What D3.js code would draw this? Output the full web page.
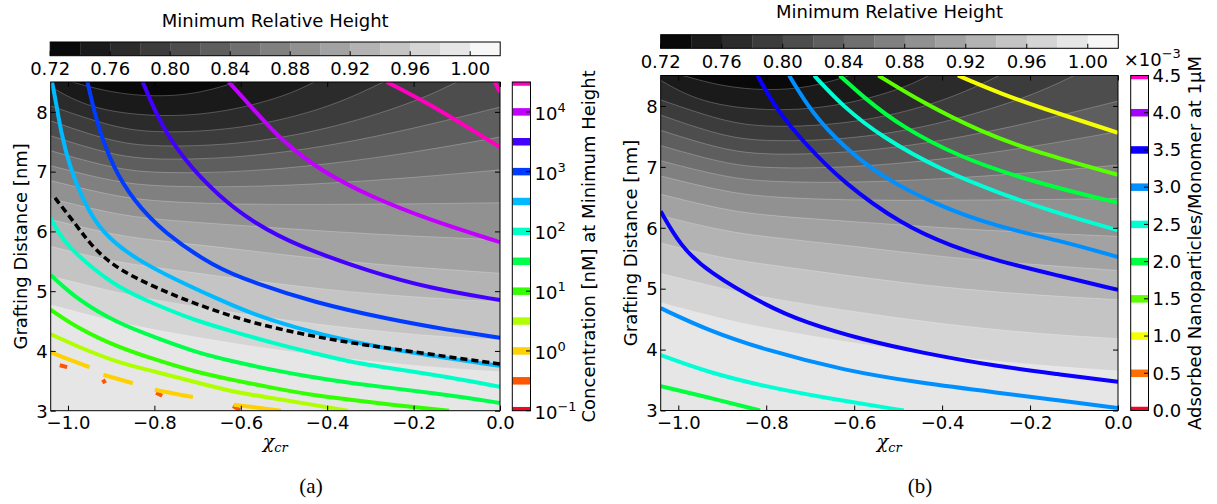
<!DOCTYPE html>
<html>
<head>
<meta charset="utf-8">
<script src="https://cdn.jsdelivr.net/npm/d3@7/dist/d3.min.js"></script>
<style>
html,body{margin:0;padding:0;background:#fff;}
svg text{font-family:"DejaVu Sans",sans-serif;fill:#000;}
</style>
</head>
<body>
<svg id="fig" width="1217" height="504" xmlns="http://www.w3.org/2000/svg"></svg>
<script>
// ---------- data ----------
const chiTicks = [-1.0, -0.8, -0.6, -0.4, -0.2, 0.0];
const distanceTicks = [3, 4, 5, 6, 7, 8];

// Minimum relative height: filled-contour level edges and colorbar ticks
const heightEdges = [0.72, 0.74, 0.76, 0.78, 0.80, 0.82, 0.84, 0.86, 0.88, 0.90, 0.92, 0.94, 0.96, 0.98, 1.00, 1.02];
const heightTicks = [0.72, 0.76, 0.80, 0.84, 0.88, 0.92, 0.96, 1.00];

// Iso-height curves [chi, distance]; the lower height lies on the upper side
const heightContours = [
  {level: 0.98, points: [[-1.04,4.77],[-0.9,4.5],[-0.8,4.35],[-0.6,4.1],[-0.4,3.9],[-0.2,3.75],[0,3.65]]},
  {level: 0.96, points: [[-1.04,5.25],[-0.9,5.0],[-0.8,4.85],[-0.6,4.62],[-0.4,4.42],[-0.2,4.27],[0,4.18]]},
  {level: 0.94, points: [[-1.04,5.75],[-0.9,5.5],[-0.8,5.4],[-0.6,5.2],[-0.4,5.02],[-0.2,4.9],[0,4.82]]},
  {level: 0.92, points: [[-1.04,6.2],[-0.9,5.95],[-0.8,5.85],[-0.6,5.7],[-0.4,5.52],[-0.2,5.4],[0,5.3]]},
  {level: 0.90, points: [[-1.04,6.55],[-0.9,6.3],[-0.8,6.2],[-0.6,6.1],[-0.4,6.0],[-0.2,5.92],[0,5.86]]},
  {level: 0.88, points: [[-1.04,6.85],[-0.9,6.6],[-0.8,6.5],[-0.6,6.45],[-0.4,6.45],[-0.2,6.46],[0,6.48]]},
  {level: 0.86, points: [[-1.04,7.1],[-0.9,6.84],[-0.8,6.75],[-0.6,6.74],[-0.4,6.8],[-0.2,6.9],[0,7.03]]},
  {level: 0.84, points: [[-1.04,7.35],[-0.9,7.06],[-0.8,6.97],[-0.6,6.99],[-0.4,7.12],[-0.2,7.32],[0,7.58]]},
  {level: 0.82, points: [[-1.04,7.6],[-0.9,7.28],[-0.8,7.19],[-0.6,7.23],[-0.4,7.42],[-0.2,7.72],[0,8.08]]},
  {level: 0.80, points: [[-1.04,7.85],[-0.9,7.5],[-0.8,7.41],[-0.6,7.45],[-0.4,7.7],[-0.2,8.15],[-0.1,8.5]]},
  {level: 0.78, points: [[-1.04,8.1],[-0.9,7.75],[-0.8,7.64],[-0.6,7.7],[-0.4,8.05],[-0.27,8.5]]},
  {level: 0.76, points: [[-1.04,8.42],[-0.95,8.05],[-0.8,7.91],[-0.65,7.97],[-0.5,8.25],[-0.43,8.5]]},
  {level: 0.74, points: [[-0.99,8.5],[-0.9,8.32],[-0.8,8.25],[-0.7,8.3],[-0.61,8.5]]}
];

// (a) concentration at minimum height, levels 10^e nM
const concExponents = [-1, -0.5, 0, 0.5, 1, 1.5, 2, 2.5, 3, 3.5, 4, 4.5];
const concTickExponents = [-1, 0, 1, 2, 3, 4];
const concLines = [
  {exp: -0.5, segments: [
    [[-1.019,3.76],[-1.002,3.73]],
    [[-0.919,3.52],[-0.914,3.46]],
    [[-0.796,3.30],[-0.782,3.25]],
    [[-0.618,3.08],[-0.602,3.01]]]},
  {exp: 0, segments: [
    [[-1.04,3.98],[-1.0,3.86],[-0.95,3.73]],
    [[-0.918,3.60],[-0.884,3.53],[-0.850,3.46]],
    [[-0.799,3.35],[-0.752,3.28],[-0.711,3.23]],
    [[-0.616,3.10],[-0.560,3.05],[-0.507,3.0]]]},
  {exp: 0.5, segments: [
    [[-1.04,4.28],[-0.977,4.07],[-0.887,3.81],[-0.796,3.65],[-0.706,3.48],[-0.616,3.31],[-0.525,3.21],[-0.435,3.10],[-0.352,3.0]]]},
  {exp: 1, segments: [
    [[-1.04,4.69],[-0.977,4.38],[-0.887,4.07],[-0.796,3.85],[-0.706,3.65],[-0.616,3.51],[-0.525,3.38],[-0.435,3.26],[-0.343,3.18],[-0.252,3.10],[-0.118,3.0]]]},
  {exp: 1.5, segments: [
    [[-1.04,5.27],[-0.977,4.85],[-0.887,4.47],[-0.796,4.22],[-0.706,3.98],[-0.616,3.82],[-0.525,3.68],[-0.435,3.56],[-0.343,3.46],[-0.252,3.38],[-0.118,3.26],[0,3.13]]]},
  {exp: 2, segments: [
    [[-1.04,6.22],[-1.013,5.85],[-0.958,5.47],[-0.887,5.07],[-0.796,4.77],[-0.706,4.51],[-0.616,4.32],[-0.525,4.13],[-0.435,3.97],[-0.343,3.81],[-0.252,3.71],[-0.118,3.56],[0,3.40]]]},
  {exp: 2.5, segments: [
    [[-1.037,8.5],[-1.03,8.25],[-1.016,7.65],[-0.996,7.08],[-0.966,6.53],[-0.922,5.97],[-0.840,5.52],[-0.750,5.19],[-0.660,4.89],[-0.574,4.62],[-0.479,4.40],[-0.343,4.15],[-0.208,3.97],[0,3.75]]]},
  {exp: 3, segments: [
    [[-0.955,8.5],[-0.931,7.75],[-0.896,7.08],[-0.850,6.53],[-0.778,5.97],[-0.660,5.40],[-0.569,5.14],[-0.435,4.82],[-0.252,4.52],[-0.118,4.35],[0,4.22]]]},
  {exp: 3.5, segments: [
    [[-0.827,8.5],[-0.787,7.81],[-0.732,7.20],[-0.650,6.58],[-0.569,6.14],[-0.470,5.76],[-0.299,5.32],[-0.162,5.05],[0,4.85]]]},
  {exp: 4, segments: [
    [[-0.628,8.5],[-0.569,8.03],[-0.507,7.53],[-0.417,7.02],[-0.299,6.58],[-0.162,6.19],[0,5.82]]]},
  {exp: 4.5, segments: [
    [[-0.262,8.5],[-0.181,8.20],[-0.090,7.81],[0,7.41]],
    [[-0.012,8.5],[0,8.33]]]}
];
// (a) dashed black curve
const thresholdCurve = [[-1.030,6.56],[-0.977,6.07],[-0.950,5.80],[-0.896,5.41],[-0.796,5.05],[-0.688,4.74],[-0.579,4.48],[-0.470,4.30],[-0.361,4.15],[-0.252,4.04],[-0.118,3.90],[0,3.78]];

// (b) adsorbed nanoparticles per monomer at 1 uM, in units of 1e-3
const adsorbedLevels = [0.0, 0.5, 1.0, 1.5, 2.0, 2.5, 3.0, 3.5, 4.0, 4.5];
const adsorbedLines = [
  {level: 1.0, segments: [
    [[-0.364,8.5],[-0.271,8.21],[-0.138,7.88],[0,7.56]]]},
  {level: 1.5, segments: [
    [[-0.545,8.5],[-0.448,8.07],[-0.314,7.58],[-0.182,7.23],[0,6.87]]]},
  {level: 2.0, segments: [
    [[-0.633,8.5],[-0.58,8.15],[-0.491,7.65],[-0.359,7.16],[-0.226,6.83],[-0.093,6.57],[0,6.41]],
    [[-1.04,3.40],[-0.934,3.22],[-0.814,3.0]]]},
  {level: 2.5, segments: [
    [[-0.691,8.5],[-0.624,7.98],[-0.537,7.49],[-0.403,6.95],[-0.271,6.57],[-0.138,6.24],[0,5.96]],
    [[-1.04,3.91],[-0.934,3.63],[-0.80,3.39],[-0.668,3.21],[-0.487,3.0]]]},
  {level: 3.0, segments: [
    [[-0.748,8.5],[-0.696,7.88],[-0.624,7.33],[-0.537,6.83],[-0.403,6.34],[-0.271,6.01],[-0.138,5.80],[0,5.52]],
    [[-1.04,4.68],[-0.934,4.32],[-0.80,3.99],[-0.624,3.66],[-0.448,3.45],[-0.271,3.29],[-0.138,3.17],[0,3.04]]]},
  {level: 3.5, segments: [
    [[-0.82,8.5],[-0.776,7.93],[-0.713,7.39],[-0.625,6.74],[-0.491,6.05],[-0.380,5.70],[-0.271,5.45],[-0.139,5.22],[0,4.98]],
    [[-1.04,6.27],[-0.996,5.71],[-0.934,5.28],[-0.80,4.72],[-0.713,4.45],[-0.580,4.16],[-0.448,3.95],[-0.271,3.72],[-0.139,3.60],[0,3.47]]]}
];

// ---------- colour maps ----------
const rainbowStops = [
  [0.000, [1.00, 0.00, 0.16]], [0.030, [1.00, 0.00, 0.00]], [0.215, [1.00, 1.00, 0.00]],
  [0.400, [0.00, 1.00, 0.00]], [0.586, [0.00, 1.00, 1.00]], [0.770, [0.00, 0.00, 1.00]],
  [0.954, [1.00, 0.00, 1.00]], [1.000, [1.00, 0.00, 0.75]]
];
function gistRainbow(t) {
  t = Math.max(0, Math.min(1, t));
  for (let i = 1; i < rainbowStops.length; i++) {
    if (t <= rainbowStops[i][0]) {
      const a = rainbowStops[i - 1], b = rainbowStops[i];
      const f = (t - a[0]) / (b[0] - a[0]);
      const c = a[1].map((v, k) => v + (b[1][k] - v) * f);
      return d3.rgb(c[0] * 255, c[1] * 255, c[2] * 255).formatHex();
    }
  }
  return "#ff00bf";
}
const nBands = heightEdges.length - 1;
function grayBand(i) {
  const v = Math.round((i + 0.5) / nBands * 255);
  return d3.rgb(v, v, v).formatHex();
}
function edgeIndex(v) { return heightEdges.findIndex(e => Math.abs(e - v) < 1e-9); }

// ---------- drawing ----------
const svg = d3.select("#fig");
const defs = svg.append("defs");
const FS = 18;

function drawPanel(cfg) {
  const {id, plot, hbar, vbar} = cfg;
  const g = svg.append("g");
  const x = d3.scaleLinear().domain([-1.04, 0]).range([plot.x0, plot.x1]);
  const y = d3.scaleLinear().domain([3, 8.5]).range([plot.y1, plot.y0]);
  const W = plot.x1 - plot.x0, H = plot.y1 - plot.y0, P = 2 * W + 2 * H;

  defs.append("clipPath").attr("id", "clip-" + id).append("rect")
    .attr("x", plot.x0).attr("y", plot.y0).attr("width", W).attr("height", H);
  const body = g.append("g").attr("clip-path", `url(#clip-${id})`);

  const smooth = d3.line().curve(d3.curveBasis);
  const toPx = pts => pts.map(p => [x(p[0]), y(p[1])]);
  const perim = ([a, b]) => {
    const dl = a - plot.x0, dr = plot.x1 - a, dt = b - plot.y0, db = plot.y1 - b;
    const m = Math.min(dl, dr, dt, db);
    if (m === dt) return a - plot.x0;
    if (m === dr) return W + (b - plot.y0);
    if (m === db) return W + H + (plot.x1 - a);
    return 2 * W + H + (plot.y1 - b);
  };
  const corners = [[0, [plot.x0, plot.y0]], [W, [plot.x1, plot.y0]], [W + H, [plot.x1, plot.y1]], [2 * W + H, [plot.x0, plot.y1]]];
  const mod = v => ((v % P) + P) % P;
  function regionPath(pts) {
    const px = toPx(pts);
    const pS = perim(px[0]), pE = perim(px[px.length - 1]);
    const span = mod(pE - pS);
    const extra = corners.map(([c, xy]) => [mod(pE - c), xy])
      .filter(([k]) => k > 0 && k < span).sort((a, b) => a[0] - b[0]);
    return smooth(px) + extra.map(([, xy]) => `L${xy[0]},${xy[1]}`).join("") + "Z";
  }

  // filled height bands
  const sorted = heightContours.slice().sort((a, b) => b.level - a.level);
  body.append("rect").attr("x", plot.x0).attr("y", plot.y0).attr("width", W).attr("height", H)
    .attr("fill", grayBand(edgeIndex(sorted[0].level)));
  body.selectAll("path.band").data(sorted).join("path").attr("class", "band")
    .attr("d", c => regionPath(c.points))
    .attr("fill", c => grayBand(edgeIndex(c.level) - 1));
  body.selectAll("path.seam").data(sorted).join("path").attr("class", "seam")
    .attr("d", c => smooth(toPx(c.points)))
    .attr("fill", "none").attr("stroke", "rgba(255,255,255,0.3)").attr("stroke-width", 0.8);

  // coloured iso-lines
  cfg.lines.forEach(L => {
    L.segments.forEach(seg => {
      body.append("path").attr("d", smooth(toPx(seg)))
        .attr("fill", "none").attr("stroke", L.color).attr("stroke-width", 4)
        .attr("stroke-linecap", "butt").attr("stroke-linejoin", "round");
    });
  });
  if (cfg.dashed) {
    body.append("path").attr("d", smooth(toPx(cfg.dashed)))
      .attr("fill", "none").attr("stroke", "#000").attr("stroke-width", 3.5)
      .attr("stroke-dasharray", "7,4");
  }

  // axes (ticks inward on all four sides)
  const styleAxis = sel => {
    sel.select(".domain").remove();
    sel.selectAll("line").attr("stroke", "#000").attr("stroke-width", 1);
    sel.selectAll("text").attr("font-size", FS).attr("font-family", "DejaVu Sans").attr("fill", "#000");
  };
  g.append("g").attr("transform", `translate(0,${plot.y1})`)
    .call(d3.axisBottom(x).tickValues(chiTicks).tickSize(-5).tickPadding(6).tickFormat(d3.format(".1f")))
    .call(styleAxis);
  g.append("g").attr("transform", `translate(0,${plot.y0})`)
    .call(d3.axisTop(x).tickValues(chiTicks).tickSize(-5).tickFormat(""))
    .call(styleAxis);
  g.append("g").attr("transform", `translate(${plot.x0},0)`)
    .call(d3.axisLeft(y).tickValues(distanceTicks).tickSize(-5).tickPadding(3).tickFormat(d3.format("d")))
    .call(styleAxis)
    .selectAll("text").attr("dy", "0.35em");
  g.append("g").attr("transform", `translate(${plot.x1},0)`)
    .call(d3.axisRight(y).tickValues(distanceTicks).tickSize(-5).tickFormat(""))
    .call(styleAxis);
  g.append("rect").attr("x", plot.x0).attr("y", plot.y0).attr("width", W).attr("height", H)
    .attr("fill", "none").attr("stroke", "#000").attr("stroke-width", 1);

  // axis labels
  g.append("text").attr("transform", `translate(${cfg.ylabelX},${(plot.y0 + plot.y1) / 2}) rotate(-90)`)
    .attr("text-anchor", "middle").attr("font-size", FS).text("Grafting Distance [nm]");
  const xl = g.append("text").attr("x", (plot.x0 + plot.x1) / 2).attr("y", 448)
    .attr("text-anchor", "middle").style("font-family", "'DejaVu Serif',serif").style("font-style", "italic");
  xl.append("tspan").attr("font-size", 19).text("χ");
  xl.append("tspan").attr("font-size", 13).attr("dy", 4).text("cr");
  g.append("text").attr("x", cfg.captionX).attr("y", 493).attr("text-anchor", "middle")
    .style("font-family", "'Liberation Serif',serif").attr("font-size", 21).text(cfg.caption);

  // horizontal colorbar of minimum relative height
  const xb = d3.scaleLinear().domain([heightEdges[0], heightEdges[nBands]]).range([hbar.x0, hbar.x1]);
  const bands = d3.range(nBands).map(i => [heightEdges[i], heightEdges[i + 1], i]);
  g.selectAll("rect.hb").data(bands).join("rect").attr("class", "hb")
    .attr("x", d => xb(d[0])).attr("y", hbar.y0)
    .attr("width", d => xb(d[1]) - xb(d[0]) + 0.3).attr("height", hbar.y1 - hbar.y0)
    .attr("fill", d => grayBand(d[2]));
  g.selectAll("line.hbt").data(heightTicks).join("line").attr("class", "hbt")
    .attr("x1", d => xb(d)).attr("x2", d => xb(d)).attr("y1", hbar.y1).attr("y2", hbar.y1 - 4.5)
    .attr("stroke", "#000");
  g.append("rect").attr("x", hbar.x0).attr("y", hbar.y0).attr("width", hbar.x1 - hbar.x0)
    .attr("height", hbar.y1 - hbar.y0).attr("fill", "none").attr("stroke", "#000");
  g.selectAll("text.hbl").data(heightTicks).join("text").attr("class", "hbl")
    .attr("x", d => xb(d)).attr("y", hbar.y1 + 19.5).attr("text-anchor", "middle")
    .attr("font-size", FS).text(d3.format(".2f"));
  g.append("text").attr("x", (hbar.x0 + hbar.x1) / 2).attr("y", cfg.titleY).attr("text-anchor", "middle")
    .attr("font-size", FS).text("Minimum Relative Height");

  // vertical colorbar of line levels
  const yb = cfg.vscale.range([vbar.y1, vbar.y0]);
  defs.append("clipPath").attr("id", "vclip-" + id).append("rect")
    .attr("x", vbar.x0).attr("y", vbar.y0).attr("width", vbar.x1 - vbar.x0).attr("height", vbar.y1 - vbar.y0);
  g.append("rect").attr("x", vbar.x0).attr("y", vbar.y0).attr("width", vbar.x1 - vbar.x0)
    .attr("height", vbar.y1 - vbar.y0).attr("fill", "#fff");
  g.append("g").attr("clip-path", `url(#vclip-${id})`).selectAll("rect").data(cfg.barLevels).join("rect")
    .attr("x", vbar.x0).attr("width", vbar.x1 - vbar.x0)
    .attr("y", d => yb(d.value) - 3.75).attr("height", 7.5).attr("fill", d => d.color);
  g.selectAll("line.vbt").data(cfg.vticks).join("line").attr("class", "vbt")
    .attr("x1", vbar.x1).attr("x2", vbar.x1 - 4.5).attr("y1", d => yb(d)).attr("y2", d => yb(d))
    .attr("stroke", "#000");
  g.append("rect").attr("x", vbar.x0).attr("y", vbar.y0).attr("width", vbar.x1 - vbar.x0)
    .attr("height", vbar.y1 - vbar.y0).attr("fill", "none").attr("stroke", "#000");
  cfg.vtickLabels(g, yb, vbar);
  g.append("text").attr("transform", `translate(${cfg.vlabelX},${(vbar.y0 + vbar.y1) / 2}) rotate(-90)`)
    .attr("text-anchor", "middle").attr("font-size", FS).text(cfg.vlabel);
}

// ---------- panel (a) ----------
const concNorm = d3.scaleLinear().domain([concExponents[0], concExponents[concExponents.length - 1]]).range([0, 1]);
drawPanel({
  id: "a",
  plot: {x0: 50.7, x1: 500, y0: 82, y1: 410.7},
  hbar: {x0: 50.2, x1: 500.2, y0: 42, y1: 55.7},
  vbar: {x0: 512.3, x1: 530.5, y0: 82, y1: 410.7},
  titleY: 27, ylabelX: 27, captionX: 311, caption: "(a)",
  lines: concLines.map(L => ({value: Math.pow(10, L.exp), color: gistRainbow(concNorm(L.exp)), segments: L.segments})),
  barLevels: concExponents.map(e => ({value: Math.pow(10, e), color: gistRainbow(concNorm(e))})),
  dashed: thresholdCurve,
  vscale: d3.scaleLog().domain([Math.pow(10, concExponents[0]), Math.pow(10, concExponents[concExponents.length - 1])]),
  vticks: concTickExponents.map(e => Math.pow(10, e)),
  vtickLabels: (g, yb, vbar) => {
    concTickExponents.forEach(e => {
      const t = g.append("text").attr("x", vbar.x1 + 4).attr("y", yb(Math.pow(10, e)) + 8).attr("font-size", FS);
      t.append("tspan").text("10");
      t.append("tspan").attr("font-size", 13).attr("dy", -8).text(e < 0 ? "\u2212" + (-e) : String(e));
    });
  },
  vlabelX: 595, vlabel: "Concentration [nM] at Minimum Height"
});

// ---------- panel (b) ----------
const adsNorm = d3.scaleLinear().domain([adsorbedLevels[0], adsorbedLevels[adsorbedLevels.length - 1]]).range([0, 1]);
drawPanel({
  id: "b",
  plot: {x0: 660.7, x1: 1118, y0: 75.5, y1: 410.5},
  hbar: {x0: 660.7, x1: 1118.3, y0: 34.7, y1: 48.3},
  vbar: {x0: 1130.7, x1: 1148.5, y0: 75.5, y1: 410.5},
  titleY: 18, ylabelX: 637, captionX: 920, caption: "(b)",
  lines: adsorbedLines.map(L => ({value: L.level, color: gistRainbow(adsNorm(L.level)), segments: L.segments})),
  barLevels: adsorbedLevels.map(v => ({value: v, color: gistRainbow(adsNorm(v))})),
  dashed: null,
  vscale: d3.scaleLinear().domain([adsorbedLevels[0], adsorbedLevels[adsorbedLevels.length - 1]]),
  vticks: adsorbedLevels,
  vtickLabels: (g, yb, vbar) => {
    g.selectAll("text.vbl").data(adsorbedLevels).join("text").attr("class", "vbl")
      .attr("x", vbar.x1 + 4).attr("y", d => yb(d)).attr("dy", "0.35em").attr("font-size", FS)
      .text(d3.format(".1f"));
    const off = g.append("text").attr("x", vbar.x0 - 7).attr("y", 66).attr("font-size", FS);
    off.append("tspan").text("\u00d710");
    off.append("tspan").attr("font-size", 13).attr("dy", -8).text("\u22123");
  },
  vlabelX: 1201, vlabel: "Adsorbed Nanoparticles/Monomer at 1\u03bcM"
});
</script>
</body>
</html>
